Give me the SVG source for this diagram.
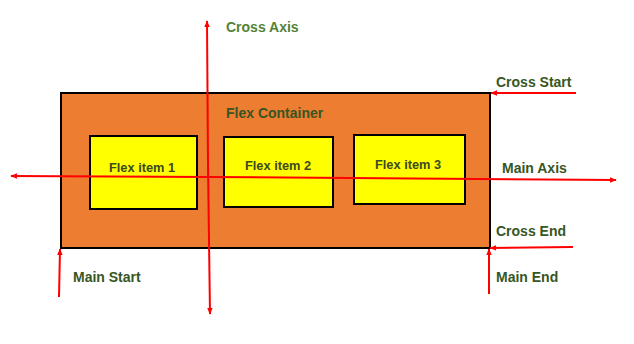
<svg xmlns="http://www.w3.org/2000/svg" width="634" height="344" viewBox="0 0 634 344">
<style>
.lbl{font-family:"Liberation Sans",Arial,sans-serif;font-weight:bold;fill:#375623}
.big{font-size:14px}
.item{font-size:12.8px;fill:#3c4a1f}
.box{fill:#ffff00;stroke:#000;stroke-width:2}
.ax{stroke:#ff0000;stroke-width:2;fill:none}
</style>
<defs>
<marker id="ah2" viewBox="0 0 10 10" refX="9" refY="5" markerWidth="7" markerHeight="7" orient="auto" markerUnits="userSpaceOnUse">
<path d="M0,1 L10,5 L0,9 z" fill="#ff0000"/>
</marker>
</defs>
<rect width="634" height="344" fill="#fff"/>
<g id="container">
<rect x="61" y="93" width="429" height="155" fill="#ed7d31" stroke="#000" stroke-width="2"/>
<text class="lbl big" x="226" y="118">Flex Container</text>
</g>
<g id="item1">
<rect class="box" x="90" y="136" width="107" height="73"/>
<text class="lbl item" x="109" y="172">Flex item 1</text>
</g>
<g id="item2">
<rect class="box" x="224" y="137" width="109" height="70"/>
<text class="lbl item" x="245" y="170">Flex item 2</text>
</g>
<g id="item3">
<rect class="box" x="354" y="135" width="111" height="69"/>
<text class="lbl item" x="375" y="169">Flex item 3</text>
</g>
<g id="connectors">
<line class="ax" x1="208" y1="165" x2="207" y2="21" marker-end="url(#ah2)"/>
<line class="ax" x1="208" y1="165" x2="210" y2="314" marker-end="url(#ah2)"/>
<line class="ax" x1="208" y1="177" x2="11" y2="176" marker-end="url(#ah2)"/>
<line class="ax" x1="208" y1="177" x2="616" y2="180" marker-end="url(#ah2)"/>
<line class="ax" x1="576" y1="93" x2="491" y2="93" marker-end="url(#ah2)"/>
<line class="ax" x1="573" y1="247" x2="490" y2="248" marker-end="url(#ah2)"/>
<line class="ax" x1="59" y1="297" x2="60" y2="249" marker-end="url(#ah2)"/>
<line class="ax" x1="489" y1="294" x2="489" y2="249" marker-end="url(#ah2)"/>
</g>
<g id="labels">
<text class="lbl big" x="226" y="32" style="fill:#548235">Cross Axis</text>
<text class="lbl big" x="496" y="87">Cross Start</text>
<text class="lbl big" x="502" y="173">Main Axis</text>
<text class="lbl big" x="496" y="236">Cross End</text>
<text class="lbl big" x="73" y="282">Main Start</text>
<text class="lbl big" x="496" y="282">Main End</text>
</g>
</svg>
